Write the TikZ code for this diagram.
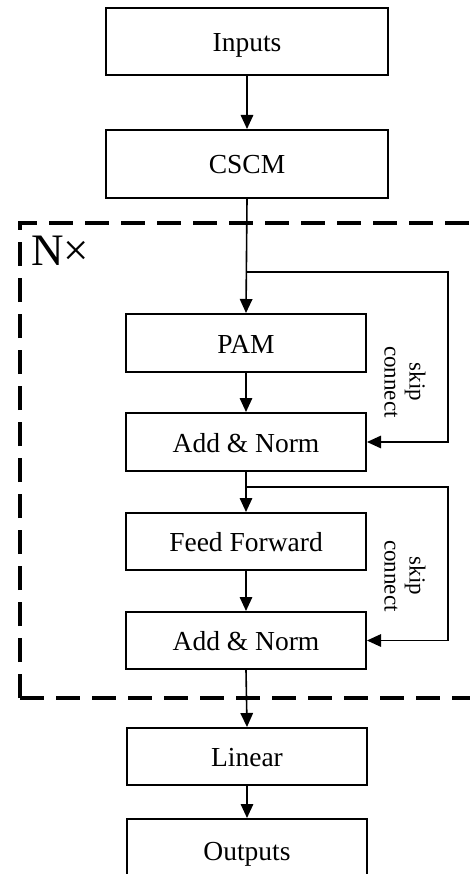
\documentclass[tikz,border=0pt]{standalone}
\usepackage{fontspec}
\setmainfont{Liberation Serif}
\usetikzlibrary{arrows.meta}
\begin{document}
\begin{tikzpicture}[x=1pt,y=-1pt,
  blk/.style={draw,line width=2pt,inner sep=0pt,minimum width=240pt,text height=22pt,text depth=2pt,font=\fontsize{27.5}{30}\selectfont},
  wide/.style={blk,minimum width=282pt},
  arr/.style={line width=1.6pt,-{Triangle[length=14pt,width=12.5pt]}},
  skipln/.style={line width=1.4pt,-{Triangle[length=14pt,width=12.5pt]}},
  lbl/.style={font=\fontsize{23}{25}\selectfont,align=center,rotate=-90}]
\useasboundingbox (0,0) rectangle (469,874);
\fill[white] (0,0) rectangle (469,874);
% dashed repeat box
\draw[line width=3.5pt,dash pattern=on 24pt off 12pt] (20,698) -- (20,223) -- (480,223);
\draw[line width=3.5pt,dash pattern=on 24pt off 12pt] (20,698) -- (480,698);
\node[anchor=north west,font=\fontsize{45}{48}\selectfont,inner sep=0pt] (nx) at (31,236) {N×};
% blocks
\node[wide,minimum height=67pt] (inp) at (247,41.5) {Inputs};
\node[wide,minimum height=68pt] (cscm) at (247,164) {CSCM};
\node[blk,minimum height=58pt] (pam) at (246,343) {PAM};
\node[blk,minimum height=58pt] (an1) at (246,442) {Add \& Norm};
\node[blk,minimum height=57pt] (ff) at (246,541.5) {Feed Forward};
\node[blk,minimum height=57pt] (an2) at (246,640.5) {Add \& Norm};
\node[blk,minimum height=57pt] (lin) at (247,756.5) {Linear};
\node[blk,minimum height=62pt] (out) at (247,850) {Outputs};
% coordinates for skip connections
\coordinate (s1) at (247,272);
\coordinate (s1r) at (448,272);
\coordinate (s1b) at (448,442);
\coordinate (s2) at (246,487);
\coordinate (s2r) at (448,487);
\coordinate (s2b) at (448,640.5);
% main flow
\draw[arr] (inp.south) -- (cscm.north);
\draw[arr] (cscm.south) -- (pam.north);
\draw[arr] (pam) -- (an1);
\draw[arr] (an1) -- (ff);
\draw[arr] (ff) -- (an2);
\draw[arr] (an2.south) -- (lin.north);
\draw[arr] (lin) -- (out);
% skip connections
\draw[skipln] (s1) -- (s1r) -- (s1b) -- (an1.east);
\draw[skipln] (s2) -- (s2r) -- (s2b) -- (an2.east);
\node[lbl] (sk1) at (405,382) {skip\\connect};
\node[lbl] (sk2) at (405,576) {skip\\connect};
\end{tikzpicture}
\end{document}
